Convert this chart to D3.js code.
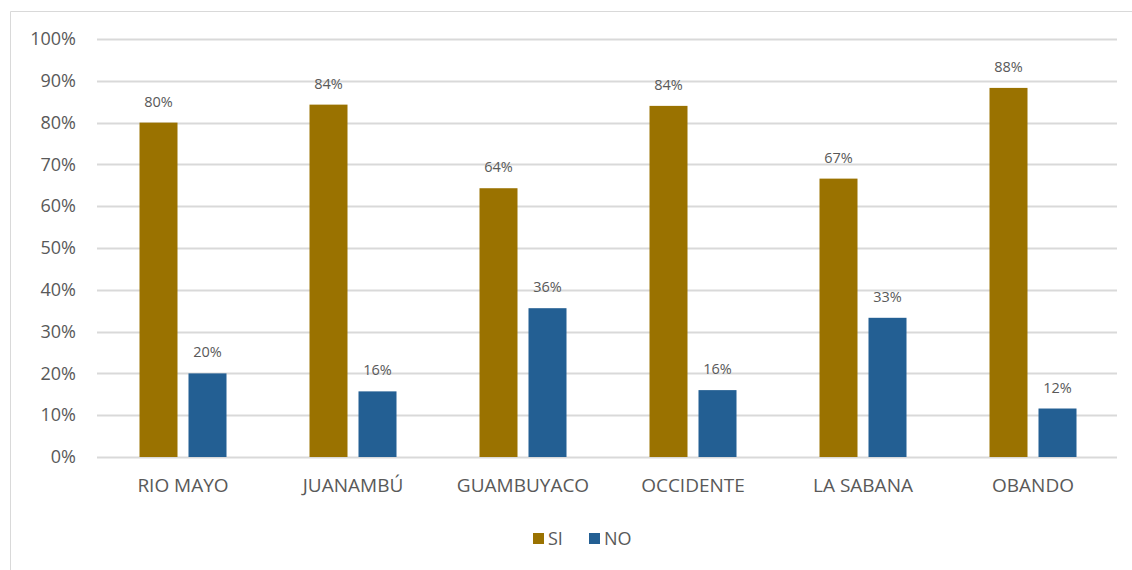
<!DOCTYPE html>
<html><head><meta charset="utf-8">
<script src="https://cdn.jsdelivr.net/npm/d3@7"></script>
<style>body{margin:0;background:#fff;} svg{display:block;}</style>
</head><body>
<svg id="c" width="1132" height="570"></svg>
<script>
const categories = ["RIO MAYO","JUANAMBÚ","GUAMBUYACO","OCCIDENTE","LA SABANA","OBANDO"];
const seriesNames = ["SI","NO"];
const siValues = [0.80,0.843,0.643,0.84,0.666,0.883];
const noValues = [0.20,0.157,0.356,0.16,0.333,0.116];
const siLabels = ["80%","84%","64%","84%","67%","88%"];
const noLabels = ["20%","16%","36%","16%","33%","12%"];
const yTicks = [0,0.1,0.2,0.3,0.4,0.5,0.6,0.7,0.8,0.9,1.0];
const colors = {SI:"#9A7200", NO:"#235F93"};

const svg = d3.select("#c");
const font = "'Open Sans', 'Noto Sans', sans-serif";
const textColor = "#595959";

// frame (top & left)
svg.append("line").attr("x1",10.5).attr("x2",1132).attr("y1",11.5).attr("y2",11.5).attr("stroke","#D9D9D9");
svg.append("line").attr("x1",10.5).attr("x2",10.5).attr("y1",11.5).attr("y2",570).attr("stroke","#D9D9D9");

const x0 = d3.scaleBand().domain(categories).range([98,1118]);
const y = d3.scaleLinear().domain([0,1]).range([457,39]);

// gridlines
svg.append("g").selectAll("line").data(yTicks).join("line")
  .attr("x1",97).attr("x2",1117)
  .attr("y1",d=>Math.round(y(d))+0.5).attr("y2",d=>Math.round(y(d))+0.5)
  .attr("stroke","#D9D9D9").attr("stroke-width",2);

// y axis labels
const yAxis = d3.axisLeft(y).tickValues(yTicks).tickFormat(d3.format(".0%")).tickSize(0).tickPadding(0);
const ya = svg.append("g").attr("transform","translate(76,0)").call(yAxis);
ya.select(".domain").remove();
ya.selectAll("text").attr("font-family",font).attr("font-size",18).attr("fill",textColor);

// bars
const barW = 38, gap = 11;
const data = categories.map((c,i)=>({c, vals:[
  {s:"SI", v:siValues[i], l:siLabels[i]},
  {s:"NO", v:noValues[i], l:noLabels[i]}]}));
const x1 = d3.scaleOrdinal().domain(seriesNames).range([-(barW+gap/2), gap/2]);

const g = svg.append("g").selectAll("g").data(data).join("g")
  .attr("transform",d=>`translate(${x0(d.c)+x0.bandwidth()/2},0)`);
g.selectAll("rect").data(d=>d.vals).join("rect")
  .attr("x",d=>x1(d.s)).attr("width",barW)
  .attr("y",d=>y(d.v)).attr("height",d=>y(0)-y(d.v))
  .attr("fill",d=>colors[d.s]);
g.selectAll("text").data(d=>d.vals).join("text")
  .attr("x",d=>x1(d.s)+barW/2).attr("y",d=>y(d.v)-16)
  .attr("text-anchor","middle").attr("font-family",font).attr("font-size",14.5)
  .attr("fill",textColor).text(d=>d.l);

// x axis labels
const xAxis = d3.axisBottom(x0).tickSize(0).tickPadding(0);
const xa = svg.append("g").attr("transform","translate(0,478)").call(xAxis);
xa.select(".domain").remove();
xa.selectAll("text").attr("font-family",font).attr("font-size",19).attr("fill",textColor).attr("dy","0.71em");

// legend
const legend = svg.append("g");
const lx = [533, 589];
seriesNames.forEach((s,i)=>{
  legend.append("rect").attr("x",lx[i]).attr("y",533).attr("width",11).attr("height",11).attr("fill",colors[s]);
  legend.append("text").attr("x",lx[i]+15).attr("y",545).attr("font-family",font).attr("font-size",18)
    .attr("fill",textColor).text(s);
});
</script>
</body></html>
